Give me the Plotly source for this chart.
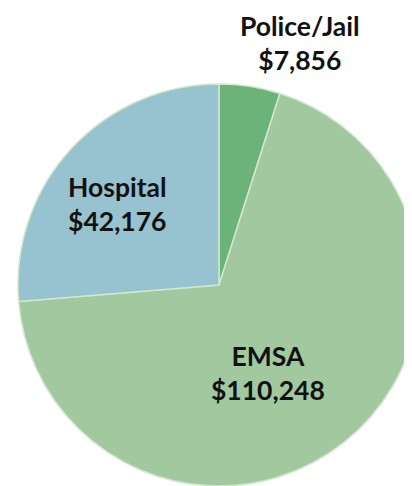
import plotly.graph_objects as go

categories = ["Police/Jail", "EMSA", "Hospital"]
values = [7856, 110248, 42176]
colors = ["#6cb37a", "#a2c8a0", "#97c2cf"]

# label positions in paper coordinates
label_x = [0.709, 0.631, 0.266]
label_y = [0.928, 0.249, 0.597]

fig = go.Figure(
    go.Pie(
        labels=categories,
        values=values,
        sort=False,
        direction="clockwise",
        rotation=0,
        textinfo="none",
        hoverinfo="label+value",
        marker=dict(colors=colors, line=dict(color="#d2e6d0", width=1.5)),
        domain=dict(x=[10 / 412, 1.0], y=[0.0165, 0.8436]),
        showlegend=False,
    )
)

for name, val, x, y in zip(categories, values, label_x, label_y):
    fig.add_annotation(
        x=x, y=y, xref="paper", yref="paper",
        xanchor="center", yanchor="middle",
        text=f"<b>{name}<br>${val:,}</b>",
        showarrow=False,
        font=dict(family="Lato", size=26.5, color="#111111"),
        align="center",
        borderpad=0,
    )

fig.update_layout(
    width=412,
    height=486,
    margin=dict(l=0, r=0, t=0, b=0),
    paper_bgcolor="white",
    plot_bgcolor="white",
)

fig.write_html("out.html")
